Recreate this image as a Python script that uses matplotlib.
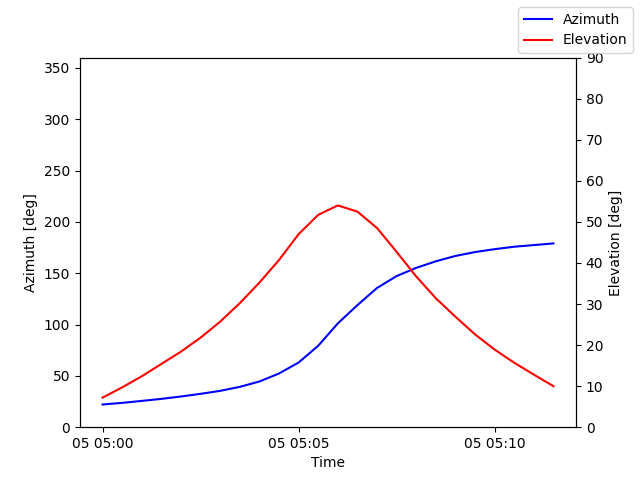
import datetime as dt

import matplotlib

matplotlib.use("Agg")
import matplotlib.pyplot as plt

# pass sampled every 30 s starting 05 05:00
start_time = dt.datetime(2024, 1, 5, 5, 0, 0)
step_seconds = 30

azimuth_deg = [
    22.1, 23.7, 25.6, 27.6, 29.9, 32.5, 35.4, 39.3, 44.5, 52.3, 63.0, 79.3,
    101.1, 118.9, 135.6, 147.2, 155.2, 161.6, 166.8, 170.6, 173.4, 175.8,
    177.4, 179.0,
]
elevation_deg = [
    7.2, 9.7, 12.4, 15.4, 18.4, 21.8, 25.7, 30.2, 35.2, 40.7, 47.0, 51.7,
    54.0, 52.5, 48.5, 42.7, 36.7, 31.4, 26.9, 22.6, 18.9, 15.7, 12.8, 10.0,
]

times = [
    start_time + dt.timedelta(seconds=step_seconds * i)
    for i in range(len(azimuth_deg))
]

fig, ax = plt.subplots(figsize=(6.4, 4.8), dpi=100)
ax.plot(times, azimuth_deg, color="blue", label="Azimuth")
ax.set_ylim(0, 360)
ax.set_ylabel("Azimuth [deg]")
ax.set_xlabel("Time")

ax2 = ax.twinx()
ax2.plot(times, elevation_deg, color="red", label="Elevation")
ax2.set_ylim(0, 90)
ax2.set_ylabel("Elevation [deg]")

fig.legend()
fig.savefig("out.png")
